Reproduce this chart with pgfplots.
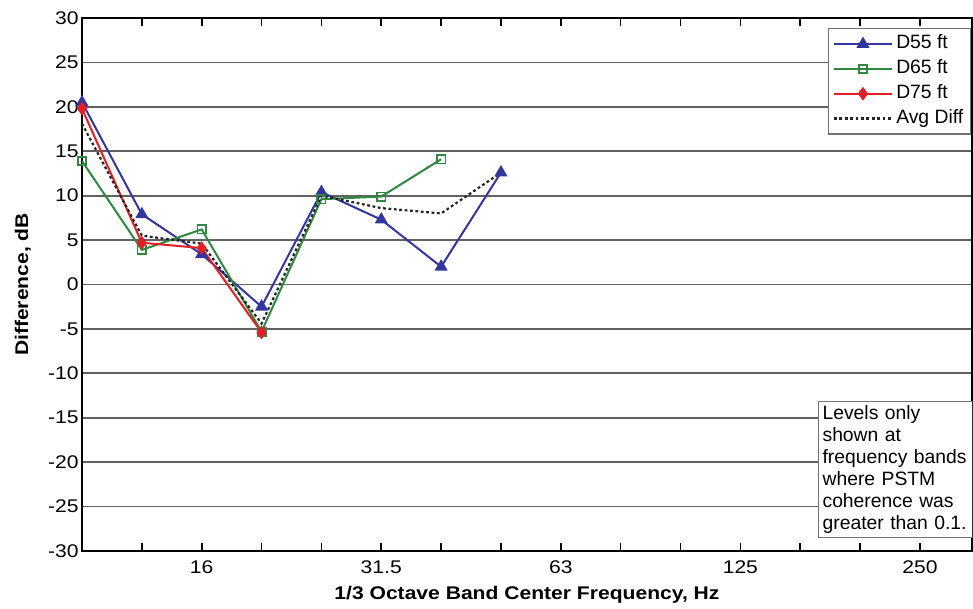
\documentclass[border=0pt]{standalone}
\usepackage{pgfplots}
\pgfplotsset{compat=1.18}
\usepackage{fontspec}
\setmainfont{Liberation Sans}
\newfontfamily\widefont[FakeStretch=1.15]{Liberation Sans}

\definecolor{dblue}{RGB}{50,54,158}
\definecolor{dgreen}{RGB}{48,136,64}
\definecolor{dred}{RGB}{226,30,38}

\begin{document}
\begin{tikzpicture}
\path[use as bounding box] (0,0) rectangle (486.5bp,304.5bp);
\begin{axis}[
  at={(41bp,29bp)}, anchor=south west,
  scale only axis, width=445bp, height=266.5bp,
  xmin=0, xmax=14.87, ymin=-30, ymax=30,
  xtick={0,...,14},
  xticklabels={,,16,,,31.5,,,63,,,125,,,250},
  ytick={-30,-25,...,30},
  ymajorgrids,
  grid style={black!62, line width=0.9bp},
  axis line style={black, line width=1bp},
  tick align=inside, major tick length=4bp,
  tick style={black, line width=0.8bp},
  ytick style={draw=none},
  /pgf/number format/assume math mode=true,
  ticklabel style={font=\widefont\fontsize{9.2}{10}\selectfont},
  yticklabel style={inner sep=1.5bp},
  xticklabel style={yshift=-1.5bp},
  xlabel={1/3 Octave Band Center Frequency, Hz},
  ylabel={Difference, dB},
  label style={font=\widefont\bfseries\fontsize{9.2}{10}\selectfont},
  xlabel style={at={(axis description cs:0.5,-0.0826)}, anchor=center},
  ylabel style={at={(axis description cs:-0.0663,0.5)}, anchor=center},
  legend cell align=left,
  legend style={at={(rel axis cs:0.9989,0.981)}, anchor=north east,
    draw=black!55, line width=0.6bp, fill=white,
    font=\fontsize{9.7}{10}\selectfont,
    inner xsep=2bp, inner ysep=1.5bp, row sep=0bp,
    nodes={inner sep=1.6bp, text height=7bp, text depth=2.2bp}},
  legend image code/.code={%
    \draw[mark repeat=2,mark phase=2] plot coordinates {(0bp,0bp)(14.5bp,0bp)(29bp,0bp)};},
]
% D55 ft
\addplot[dblue, line width=1bp, mark=triangle*, mark size=2.8bp,
  mark options={solid, fill=dblue}]
  coordinates {(0,20.5)(1,7.9)(2,3.4)(3,-2.5)(4,10.4)(5,7.3)(6,2.0)(7,12.6)};
\addlegendentry{D55 ft}
% D65 ft
\addplot[dgreen, line width=1bp, mark=square, mark size=2.1bp,
  mark options={solid, fill=white, line width=0.8bp}]
  coordinates {(0,13.9)(1,3.9)(2,6.2)(3,-5.3)(4,9.6)(5,9.9)(6,14.1)};
\addlegendentry{D65 ft}
% D75 ft
\addplot[dred, line width=1bp, mark=diamond*, mark size=2.6bp,
  mark options={solid, fill=dred}]
  coordinates {(0,19.8)(1,4.7)(2,4.1)(3,-5.4)};
\addlegendentry{D75 ft}
% average of the available distances
\addplot[black!85, line width=1.1bp, dash pattern=on 1.4bp off 1.3bp]
  coordinates {(0,18.1)(1,5.5)(2,4.6)(3,-4.4)(4,10.0)(5,8.6)(6,8.0)(7,12.6)};
\addlegendentry{Avg Diff}

\node[draw=black!55, line width=0.6bp, fill=white, anchor=north west,
  align=left, text width=73bp, inner sep=2.2bp,
  font=\fontsize{9.7}{11}\selectfont]
  at (axis cs:12.29,-13.1)
  {Levels only\\shown at\\frequency bands\\where PSTM\\coherence was\\greater than 0.1.};
\end{axis}
\end{tikzpicture}
\end{document}
